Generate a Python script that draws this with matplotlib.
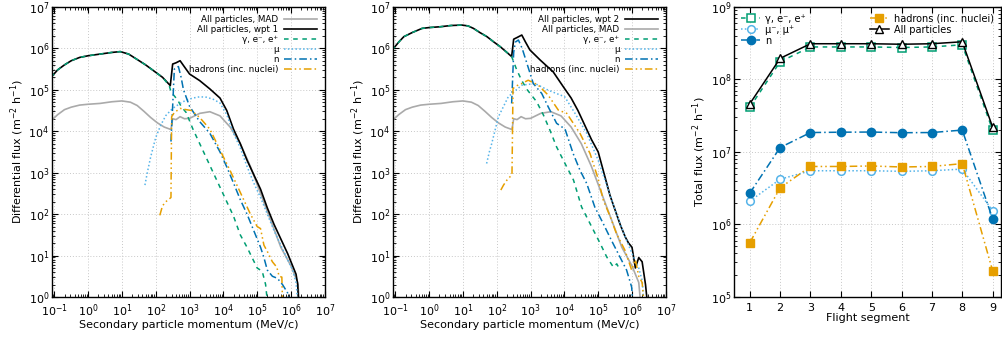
import numpy as np
import matplotlib
matplotlib.use('Agg')
import matplotlib.pyplot as plt
from matplotlib.ticker import LogLocator, NullFormatter

# colours (gnuplot style palette)
C_GAMMA = '#009E73'
C_MU = '#56B4E9'
C_N = '#0072B2'
C_HAD = '#E69F00'
C_MAD = '#aaaaaa'

# ---- spectra as log10(p) / log10(flux) ----
# MAD reference spectrum (same in both left panels)
mad_logp = [-1.1, -0.9, -0.7, -0.5, -0.25, 0.0, 0.35, 0.7, 1.0, 1.25, 1.45, 1.65, 1.85, 2.05, 2.25, 2.45,
            2.5, 2.6, 2.72, 2.85, 3.0, 3.3, 3.6, 3.9, 4.2, 4.5, 4.8, 5.1, 5.4, 5.7, 6.0, 6.2, 6.25]
mad_logf = [4.25, 4.4, 4.52, 4.58, 4.63, 4.65, 4.67, 4.71, 4.73, 4.7, 4.62, 4.48, 4.33, 4.2, 4.1, 4.04,
            4.3, 4.28, 4.35, 4.3, 4.31, 4.43, 4.47, 4.37, 4.1, 3.7, 3.15, 2.5, 1.85, 1.2, 0.75, 0.35, -0.1]

# waypoint 1
w1_all_logp = [-1.1, -0.9, -0.7, -0.5, -0.25, 0.0, 0.35, 0.7, 0.95, 1.2, 1.45, 1.7, 1.95, 2.2, 2.43, 2.5,
               2.6, 2.72, 2.85, 3.0, 3.3, 3.6, 3.9, 4.1, 4.3, 4.5, 4.7, 4.9, 5.1, 5.3, 5.5, 5.7, 5.9, 6.05,
               6.15, 6.2, 6.22]
w1_all_logf = [5.3, 5.48, 5.6, 5.7, 5.78, 5.82, 5.86, 5.9, 5.92, 5.86, 5.73, 5.6, 5.45, 5.3, 5.1, 5.62,
               5.65, 5.7, 5.55, 5.38, 5.22, 5.02, 4.8, 4.5, 4.05, 3.7, 3.3, 2.95, 2.6, 2.15, 1.75, 1.4, 1.05,
               0.75, 0.55, 0.3, -0.1]
w1_gam_logp = [-1.1, -0.9, -0.7, -0.5, -0.25, 0.0, 0.35, 0.7, 0.95, 1.2, 1.45, 1.7, 1.95, 2.2, 2.4, 2.45,
               2.55, 2.65, 2.75, 2.9, 3.0, 3.1, 3.3, 3.5, 3.7, 3.9, 4.1, 4.3, 4.5, 4.7, 4.85, 5.0, 5.15,
               5.25, 5.3]
w1_gam_logf = [5.3, 5.48, 5.6, 5.7, 5.78, 5.82, 5.86, 5.9, 5.92, 5.86, 5.73, 5.6, 5.45, 5.3, 5.1, 4.95,
               4.85, 4.75, 4.6, 4.45, 4.25, 4.05, 3.7, 3.35, 3.0, 2.65, 2.3, 1.95, 1.5, 1.2, 0.95, 0.7, 0.62,
               0.3, -0.1]
w1_mu_logp = [1.68, 1.75, 1.85, 2.0, 2.15, 2.3, 2.5, 2.72, 2.9, 3.1, 3.3, 3.5, 3.7, 3.9, 4.1, 4.3, 4.5,
              4.7, 4.9, 5.1, 5.3, 5.5, 5.7, 5.9, 6.05, 6.15, 6.2]
w1_mu_logf = [2.7, 3.0, 3.38, 3.85, 4.15, 4.38, 4.55, 4.67, 4.75, 4.8, 4.83, 4.82, 4.77, 4.68, 4.4, 3.95,
              3.6, 3.15, 2.75, 2.4, 2.0, 1.6, 1.25, 0.9, 0.65, 0.35, -0.1]
w1_n_logp = [2.45, 2.5, 2.55, 2.67, 2.75, 2.82, 3.0, 3.3, 3.6, 3.9, 4.1, 4.3, 4.5, 4.7, 4.85, 5.0, 5.1,
             5.2, 5.3, 5.45, 5.6, 5.75, 5.9, 5.95]
w1_n_logf = [3.75, 4.6, 5.5, 5.56, 5.3, 5.0, 4.6, 4.23, 3.95, 3.5, 3.14, 2.75, 2.35, 2.0, 1.7, 1.4, 1.2,
             0.95, 0.65, 0.5, 0.45, 0.3, 0.1, -0.1]
w1_had_logp = [2.12, 2.2, 2.3, 2.45, 2.47, 2.55, 2.72, 2.9, 3.05, 3.3, 3.6, 3.9, 4.0, 4.2, 4.4, 4.6, 4.8,
               5.0, 5.1, 5.2, 5.3, 5.45, 5.58, 5.65, 5.73, 5.75]
w1_had_logf = [1.97, 2.2, 2.3, 2.4, 4.35, 4.45, 4.55, 4.52, 4.5, 4.33, 4.05, 3.55, 3.38, 3.05, 2.7, 2.35,
               2.0, 1.7, 1.65, 1.25, 1.1, 0.85, 0.72, 0.5, 0.48, -0.1]

# waypoint 2
w2_all_logp = [-1.1, -0.9, -0.75, -0.5, -0.21, 0.0, 0.33, 0.65, 0.97, 1.15, 1.31, 1.5, 1.71, 1.9, 2.1, 2.3,
               2.44, 2.5, 2.6, 2.74, 2.85, 2.98, 3.28, 3.67, 3.97, 4.2, 4.4, 4.6, 4.8, 5.0, 5.2, 5.35, 5.5,
               5.65, 5.8, 5.9, 6.0, 6.1, 6.2, 6.3, 6.4, 6.45]
w2_all_logf = [5.95, 6.15, 6.28, 6.38, 6.48, 6.5, 6.52, 6.55, 6.56, 6.54, 6.48, 6.38, 6.28, 6.16, 6.04, 5.9,
               5.8, 6.22, 6.26, 6.32, 6.15, 5.96, 5.72, 5.43, 5.07, 4.8, 4.5, 4.15, 3.8, 3.5, 2.9, 2.45, 2.1,
               1.75, 1.45, 1.3, 1.2, 0.7, 0.95, 0.85, 0.3, -0.1]
w2_gam_logp = [-1.1, -0.9, -0.75, -0.5, -0.21, 0.0, 0.33, 0.65, 0.97, 1.15, 1.31, 1.5, 1.71, 1.9, 2.1, 2.3,
               2.44, 2.59, 2.74, 2.9, 3.18, 3.38, 3.57, 3.77, 4.0, 4.27, 4.51, 4.76, 5.06, 5.25, 5.45, 5.55,
               5.6]
w2_gam_logf = [5.95, 6.15, 6.28, 6.38, 6.48, 6.5, 6.52, 6.55, 6.56, 6.54, 6.48, 6.38, 6.28, 6.16, 6.04, 5.9,
               5.8, 5.48, 5.22, 5.0, 4.71, 4.39, 4.03, 3.62, 3.25, 2.82, 2.17, 1.77, 1.29, 0.97, 0.72, 0.8,
               0.72]
w2_mu_logp = [1.7, 1.78, 1.85, 2.05, 2.34, 2.74, 3.13, 3.52, 4.01, 4.3, 4.66, 5.0, 5.25, 5.5, 5.75, 6.0,
              6.2, 6.3, 6.35]
w2_mu_logf = [3.22, 3.5, 3.7, 4.35, 4.83, 5.11, 5.15, 4.99, 4.83, 4.45, 3.95, 3.3, 2.7, 2.1, 1.55, 1.05,
              0.7, 0.4, -0.1]
w2_n_logp = [2.44, 2.5, 2.55, 2.64, 2.75, 2.89, 3.08, 3.33, 3.52, 3.77, 4.02, 4.26, 4.46, 4.66, 4.9, 5.15,
             5.39, 5.64, 5.84, 5.99, 6.02]
w2_n_logf = [4.67, 5.9, 6.15, 6.2, 6.0, 5.64, 5.15, 4.91, 4.59, 4.19, 4.05, 3.46, 3.06, 2.74, 2.17, 1.77,
             1.37, 0.97, 0.65, 0.24, -0.1]
w2_had_logp = [2.12, 2.2, 2.3, 2.45, 2.48, 2.6, 2.74, 2.93, 3.23, 3.52, 3.82, 4.07, 4.46, 4.76, 5.0, 5.15,
               5.35, 5.54, 5.79, 5.99, 6.1, 6.2, 6.3, 6.35]
w2_had_logf = [2.58, 2.7, 2.82, 2.95, 5.03, 5.1, 5.15, 5.23, 5.11, 4.87, 4.51, 4.43, 3.95, 3.46, 2.85, 2.34,
               1.95, 1.53, 1.13, 0.65, 0.9, 0.5, 0.35, -0.1]

# ---- total flux per flight segment ----
segments = [1, 2, 3, 4, 5, 6, 7, 8, 9]
tot_gamma = [4.1e7, 1.75e8, 2.8e8, 2.8e8, 2.8e8, 2.75e8, 2.8e8, 3.0e8, 2.0e7]
tot_mu = [2.1e6, 4.2e6, 5.5e6, 5.5e6, 5.5e6, 5.4e6, 5.5e6, 5.8e6, 1.55e6]
tot_n = [2.7e6, 1.15e7, 1.85e7, 1.87e7, 1.88e7, 1.84e7, 1.85e7, 2.0e7, 1.2e6]
tot_had = [5.6e5, 3.2e6, 6.3e6, 6.3e6, 6.4e6, 6.2e6, 6.3e6, 6.9e6, 2.3e5]
tot_all = [4.6e7, 1.95e8, 3.1e8, 3.1e8, 3.1e8, 3.05e8, 3.1e8, 3.3e8, 2.2e7]

# major tick decades
spec_xdec = [-1, 0, 1, 2, 3, 4, 5, 6, 7]
spec_ydec = [0, 1, 2, 3, 4, 5, 6, 7]
tot_ydec = [5, 6, 7, 8, 9]

DASH = (0, (3, 3))
DOT = (0, (1, 1.5))
DASHDOT = (0, (5, 2, 1, 2))
DASHDOTDOT = (0, (5, 2, 1, 2, 1, 2))

plt.rcParams['font.family'] = 'DejaVu Sans'
plt.rcParams['font.size'] = 8

fig = plt.figure(figsize=(10.03, 3.37), dpi=100)
ax1 = fig.add_axes([0.0518, 0.1187, 0.272, 0.861])
ax2 = fig.add_axes([0.3918, 0.1187, 0.272, 0.861])
ax3 = fig.add_axes([0.7318, 0.1187, 0.266, 0.861])


def style_log_axis(ax, xlog=True):
    ax.set_yscale('log')
    if xlog:
        ax.set_xscale('log')
    ax.tick_params(which='both', direction='in', top=True, right=True, labelsize=8)
    ax.tick_params(axis='y', pad=2)
    ax.tick_params(axis='x', pad=4)
    ax.tick_params(which='major', length=4)
    ax.tick_params(which='minor', length=2)
    ax.grid(True, which='major', color='#c8c8c8', linestyle=(0, (1, 2)), linewidth=0.7)
    for sp in ax.spines.values():
        sp.set_linewidth(1.0)


def spectrum_panel(ax, all_logp, all_logf, gam, mu, n, had, wpt_label, wpt_first):
    h_mad, = ax.plot(10 ** np.array(mad_logp), 10 ** np.array(mad_logf), color=C_MAD, lw=1.2,
                     label='All particles, MAD')
    h_all, = ax.plot(10 ** np.array(all_logp), 10 ** np.array(all_logf), color='black', lw=1.2,
                     label=wpt_label)
    h_g, = ax.plot(10 ** np.array(gam[0]), 10 ** np.array(gam[1]), color=C_GAMMA, lw=1.1, ls=DASH,
                   label='γ, e⁻, e⁺')
    h_m, = ax.plot(10 ** np.array(mu[0]), 10 ** np.array(mu[1]), color=C_MU, lw=1.1, ls=DOT,
                   label='μ')
    h_n, = ax.plot(10 ** np.array(n[0]), 10 ** np.array(n[1]), color=C_N, lw=1.1, ls=DASHDOT,
                   label='n')
    h_h, = ax.plot(10 ** np.array(had[0]), 10 ** np.array(had[1]), color=C_HAD, lw=1.1, ls=DASHDOTDOT,
                   label='hadrons (inc. nuclei)')
    style_log_axis(ax)
    ax.set_xticks([10.0 ** k for k in spec_xdec])
    ax.set_yticks([10.0 ** k for k in spec_ydec])
    ax.xaxis.set_minor_locator(LogLocator(base=10, subs=np.arange(2, 10), numticks=20))
    ax.xaxis.set_minor_formatter(NullFormatter())
    ax.yaxis.set_minor_locator(LogLocator(base=10, subs=np.arange(2, 10), numticks=20))
    ax.yaxis.set_minor_formatter(NullFormatter())
    ax.set_xlim(0.085, 1e7)
    ax.set_ylim(1, 1e7)
    ax.set_xlabel('Secondary particle momentum (MeV/c)', fontsize=8, labelpad=0.5)
    ax.set_ylabel(r'Differential flux (m$^{-2}$ h$^{-1}$)', fontsize=8, labelpad=2)
    if wpt_first:
        handles = [h_all, h_mad, h_g, h_m, h_n, h_h]
    else:
        handles = [h_mad, h_all, h_g, h_m, h_n, h_h]
    ax.legend(handles=handles, loc='upper right', frameon=False, markerfirst=False, fontsize=6.3,
              handlelength=3.8, labelspacing=0.12, borderaxespad=0.5, handletextpad=0.6)


spectrum_panel(ax1, w1_all_logp, w1_all_logf, (w1_gam_logp, w1_gam_logf), (w1_mu_logp, w1_mu_logf),
               (w1_n_logp, w1_n_logf), (w1_had_logp, w1_had_logf), 'All particles, wpt 1', False)
spectrum_panel(ax2, w2_all_logp, w2_all_logf, (w2_gam_logp, w2_gam_logf), (w2_mu_logp, w2_mu_logf),
               (w2_n_logp, w2_n_logf), (w2_had_logp, w2_had_logf), 'All particles, wpt 2', True)

# ---- right panel: total flux vs flight segment ----
ms = 5.5
g, = ax3.plot(segments, tot_gamma, color=C_GAMMA, ls=DASH, lw=1.1, marker='s', mfc='white', mec=C_GAMMA,
              ms=ms, mew=1.1, label='γ, e⁻, e⁺')
m, = ax3.plot(segments, tot_mu, color=C_MU, ls=DOT, lw=1.1, marker='o', mfc='white', mec=C_MU,
              ms=ms, mew=1.1, label='μ⁻, μ⁺')
nn, = ax3.plot(segments, tot_n, color=C_N, ls=DASHDOT, lw=1.1, marker='o', ms=ms + 0.5, label='n')
hh, = ax3.plot(segments, tot_had, color=C_HAD, ls=DASHDOTDOT, lw=1.1, marker='s', ms=ms,
               label='hadrons (inc. nuclei)')
aa, = ax3.plot(segments, tot_all, color='black', lw=1.1, marker='^', mfc='white', mec='black',
               ms=ms, mew=1.0, label='All particles')
style_log_axis(ax3, xlog=False)
ax3.set_xticks(segments)
ax3.set_yticks([10.0 ** k for k in tot_ydec])
ax3.tick_params(axis='x', which='minor', top=False, bottom=False)
ax3.yaxis.set_minor_locator(LogLocator(base=10, subs=np.arange(2, 10), numticks=20))
ax3.yaxis.set_minor_formatter(NullFormatter())
ax3.set_xlim(0.48, 9.27)
ax3.set_ylim(1e5, 1e9)
ax3.set_xlabel('Flight segment', fontsize=8, labelpad=0.5)
ax3.set_ylabel(r'Total flux (m$^{-2}$ h$^{-1}$)', fontsize=8, labelpad=2)
leg1 = ax3.legend(handles=[g, m, nn], loc='upper left', frameon=False, fontsize=7,
                  handlelength=2.0, labelspacing=0.1, borderaxespad=0.3, handletextpad=0.5)
ax3.add_artist(leg1)
ax3.legend(handles=[hh, aa], loc='upper right', frameon=False, fontsize=7,
           handlelength=2.0, labelspacing=0.1, borderaxespad=0.3, handletextpad=0.5)

fig.savefig('out.png', dpi=100)
